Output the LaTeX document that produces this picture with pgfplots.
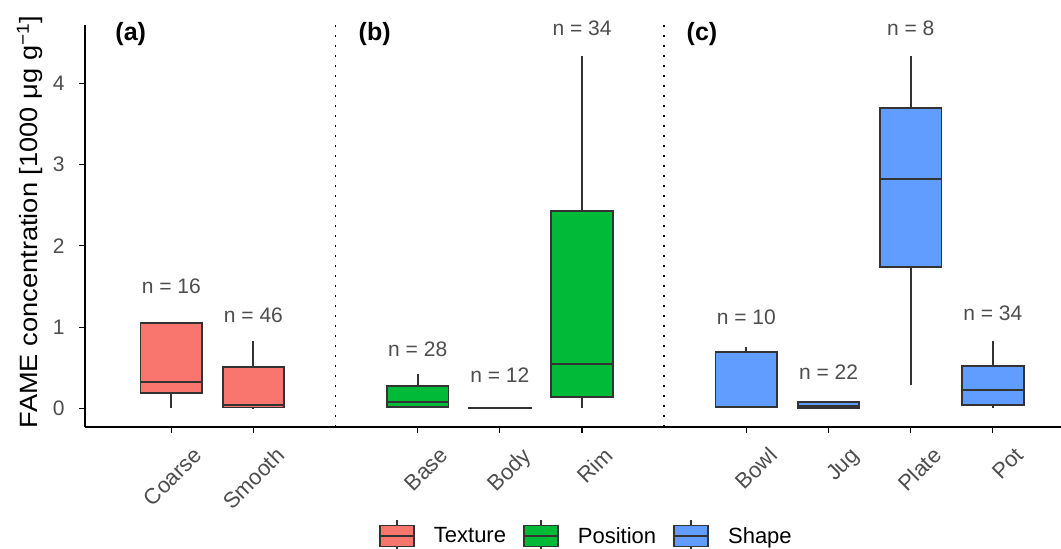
\documentclass[border=0pt]{standalone}
\usepackage{fontspec}
\setmainfont{Liberation Sans}
\usepackage{pgfplots}
\pgfplotsset{compat=1.18}
\usepgfplotslibrary{statistics}
\definecolor{tex}{HTML}{F8766D}
\definecolor{pos}{HTML}{00BA38}
\definecolor{shp}{HTML}{619CFF}
\definecolor{boxline}{HTML}{333333}
\definecolor{txtgray}{HTML}{4D4D4D}
\pgfplotsset{
  boxplot/every median/.style={line width=2pt, draw=boxline},
  boxplot/every whisker/.style={line width=1.9pt, draw=boxline},
  boxplot/every box/.style={line width=1.9pt, draw=boxline},
  bx/.style={line width=1.9pt, draw=boxline},
  legtex/.style={legend image code/.code={%
      \path (-15pt,0pt) (51pt,0pt);
      \draw[fill=tex, draw=boxline, line width=1.8pt] (0pt,-10.5pt) rectangle (34pt,10.5pt);
      \draw[boxline, line width=1.8pt] (0pt,0pt)--(34pt,0pt) (17pt,10.5pt)--(17pt,16pt) (17pt,-10.5pt)--(17pt,-16pt);}},
  legpos/.style={legend image code/.code={%
      \path (-15pt,0pt) (51pt,0pt);
      \draw[fill=pos, draw=boxline, line width=1.8pt] (0pt,-10.5pt) rectangle (34pt,10.5pt);
      \draw[boxline, line width=1.8pt] (0pt,0pt)--(34pt,0pt) (17pt,10.5pt)--(17pt,16pt) (17pt,-10.5pt)--(17pt,-16pt);}},
  legshp/.style={legend image code/.code={%
      \path (-15pt,0pt) (51pt,0pt);
      \draw[fill=shp, draw=boxline, line width=1.8pt] (0pt,-10.5pt) rectangle (34pt,10.5pt);
      \draw[boxline, line width=1.8pt] (0pt,0pt)--(34pt,0pt) (17pt,10.5pt)--(17pt,16pt) (17pt,-10.5pt)--(17pt,-16pt);}},
}
\begin{document}
\begin{tikzpicture}
\path[use as bounding box] (0,0) rectangle (1061pt,549pt);
\begin{axis}[
  at={(85pt,122pt)}, anchor=south west,
  scale only axis, width=976pt, height=402pt,
  xmin=-0.05, xmax=11.83, ymin=-0.23, ymax=4.72,
  axis x line*=bottom, axis y line*=left,
  axis line style={-, line width=1.3pt, black},
  tick align=outside, major tick length=6pt,
  tick style={line width=1.1pt, black},
  xtick={1,2,4,5,6,8,9,10,11},
  xticklabels={Coarse,Smooth,Base,Body,Rim,Bowl,Jug,Plate,Pot},
  ytick={0,1,2,3,4},
  /pgf/number format/assume math mode=true,
  tick label style={font=\fontsize{21}{25}\selectfont, text=txtgray},
  x tick label style={font=\fontsize{22}{26}\selectfont, xshift=21pt, yshift=-8pt, rotate=45, anchor=north east},
  y tick label style={xshift=-11pt},
  ylabel={FAME concentration [1000 μg g\textsuperscript{−1}]},
  ylabel style={font=\fontsize{25}{29}\selectfont, black, at={(axis description cs:-0.0564,0.51)}, anchor=center, xscale=1.09},
  legend columns=3,
  legend style={draw=none, fill=none, at={(0.506,-0.271)}, anchor=center,
    font=\fontsize{22}{26}\selectfont, text=black},
  legend cell align=left,
  boxplot/draw direction=y,
  boxplot/box extend=0.75,
  boxplot/whisker extend=0,
  clip=false,
]
% Texture
\addplot[fill=tex, legtex, bx, boxplot prepared={draw position=1, lower whisker=0.01, lower quartile=0.185, median=0.33, upper quartile=1.055, upper whisker=1.055}] coordinates {};
\addlegendentry{Texture}
\addplot[fill=tex, forget plot, bx, boxplot prepared={draw position=2, lower whisker=0.005, lower quartile=0.01, median=0.045, upper quartile=0.51, upper whisker=0.825}] coordinates {};
% Position
\addplot[fill=pos, legpos, bx, boxplot prepared={draw position=4, lower whisker=0.012, lower quartile=0.012, median=0.075, upper quartile=0.28, upper whisker=0.42}] coordinates {};
\addlegendentry{Position}
\addplot[fill=pos, forget plot, bx, boxplot prepared={draw position=5, lower whisker=0.003, lower quartile=0.003, median=0.003, upper quartile=0.004, upper whisker=0.004}] coordinates {};
\addplot[fill=pos, forget plot, bx, boxplot prepared={draw position=6, lower whisker=0.01, lower quartile=0.14, median=0.54, upper quartile=2.43, upper whisker=4.34}] coordinates {};
% Shape
\addplot[fill=shp, legshp, bx, boxplot prepared={draw position=8, lower whisker=0.016, lower quartile=0.016, median=0.02, upper quartile=0.69, upper whisker=0.76}] coordinates {};
\addlegendentry{Shape}
\addplot[fill=shp, forget plot, bx, boxplot prepared={draw position=9, lower whisker=0.006, lower quartile=0.006, median=0.03, upper quartile=0.074, upper whisker=0.074}] coordinates {};
\addplot[fill=shp, forget plot, bx, boxplot prepared={draw position=10, lower whisker=0.287, lower quartile=1.744, median=2.82, upper quartile=3.70, upper whisker=4.34}] coordinates {};
\addplot[fill=shp, forget plot, bx, boxplot prepared={draw position=11, lower whisker=0.01, lower quartile=0.045, median=0.22, upper quartile=0.52, upper whisker=0.825}] coordinates {};
% separators
\addplot[forget plot, black, line width=1.8pt, dash pattern=on 1.8pt off 8.2pt] coordinates {(3,-0.23) (3,4.72)};
\addplot[forget plot, black, line width=1.8pt, dash pattern=on 1.8pt off 8.2pt] coordinates {(7,-0.23) (7,4.72)};
% n labels
\begin{scope}[every node/.style={font=\fontsize{21}{25}\selectfont, text=txtgray, anchor=base}]
\node at (axis cs:1,1.408) {n = 16};
\node at (axis cs:2,1.059) {n = 46};
\node at (axis cs:4,0.644) {n = 28};
\node at (axis cs:5,0.32) {n = 12};
\node at (axis cs:6,4.585) {n = 34};
\node at (axis cs:8,1.026) {n = 10};
\node at (axis cs:9,0.361) {n = 22};
\node at (axis cs:10,4.585) {n = 8};
\node at (axis cs:11,1.087) {n = 34};
\end{scope}
\begin{scope}[every node/.style={font=\bfseries\fontsize{25}{29}\selectfont, text=black, anchor=base}]
\node at (axis cs:0.507,4.535) {(a)};
\node at (axis cs:3.476,4.535) {(b)};
\node at (axis cs:7.46,4.535) {(c)};
\end{scope}
\end{axis}
\end{tikzpicture}
\end{document}
